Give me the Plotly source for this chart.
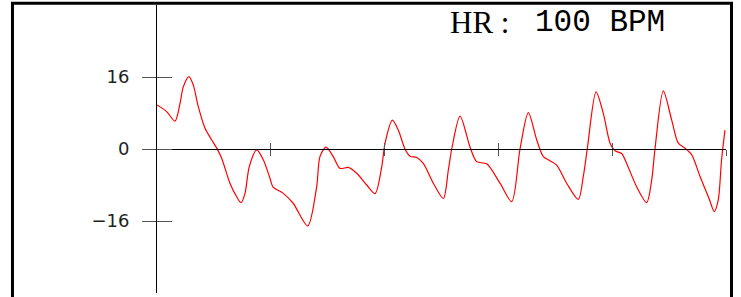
import plotly.graph_objects as go

# ECG-like waveform values
t_values = [0.00, 0.085, 0.158, 0.202, 0.231, 0.281, 0.319, 0.363, 0.422, 0.481,
            0.525, 0.569, 0.641, 0.700, 0.738, 0.773, 0.811, 0.876, 0.934, 0.993,
            1.019, 1.107, 1.195, 1.324, 1.403, 1.432, 1.485, 1.549, 1.608, 1.681,
            1.755, 1.843, 1.916, 1.975, 2.004, 2.068, 2.120, 2.179, 2.223, 2.282,
            2.340, 2.428, 2.516, 2.560, 2.590, 2.663, 2.750, 2.809, 2.897, 3.014,
            3.117, 3.190, 3.263, 3.337, 3.395, 3.453, 3.512, 3.600, 3.702, 3.746,
            3.781, 3.858, 3.922, 3.981, 4.025, 4.083, 4.127, 4.215, 4.303, 4.347,
            4.376, 4.449, 4.523, 4.581, 4.640, 4.699, 4.772, 4.851, 4.897, 4.932,
            4.961, 4.991]
signal = [9.8, 8.3, 6.2, 10.1, 13.8, 16.1, 14.2, 9.4, 4.6, 2.0,
          0.2, -2.1, -7.6, -10.6, -11.9, -9.9, -3.9, -0.2, -2.4, -6.5,
          -8.4, -9.8, -12.0, -17.1, -8.4, -1.7, 0.4, -1.7, -4.3, -4.1,
          -5.4, -8.0, -9.9, -3.9, 1.3, 6.4, 4.2, 0.0, -1.6, -1.9,
          -3.2, -7.6, -11.0, -4.7, 0.0, 7.3, 0.5, -2.8, -3.3, -7.6,
          -11.7, 0.0, 8.1, 2.0, -1.7, -2.6, -3.6, -7.6, -11.2, -6.1,
          0.0, 12.7, 7.9, 1.3, -0.4, -1.0, -3.2, -8.4, -11.9, -6.9,
          0.0, 12.9, 6.4, 1.3, 0.2, -1.3, -6.1, -11.0, -13.9, -11.3,
          -2.4, 4.2]

y_tick_vals = [-16, 0, 16]
y_tick_text = ["\u221216", "0", "16"]
x_tick_vals = [1, 2, 3, 4, 5]
title_left = "HR :"
title_right = "100 BPM"

fig = go.Figure()
fig.add_trace(go.Scatter(
    x=t_values, y=signal, mode="lines",
    line=dict(color="#ff0000", width=1.2, shape="spline", smoothing=0.8),
    hoverinfo="skip", showlegend=False,
))
# overlay trace to activate secondary axes (inside tick halves)
fig.add_trace(go.Scatter(x=[0], y=[0], xaxis="x2", yaxis="y2", mode="markers",
                         marker=dict(opacity=0), showlegend=False, hoverinfo="skip"))

tick_col = "#555555"
fig.update_layout(
    width=741, height=297,
    margin=dict(l=157, r=15, t=5, b=4),
    paper_bgcolor="white", plot_bgcolor="white",
    xaxis=dict(range=[0, 5], anchor="free", position=0.5,
               showline=True, linecolor="black", linewidth=1,
               tickvals=x_tick_vals, ticks="outside", ticklen=6, tickcolor=tick_col,
               tickwidth=1, showticklabels=False, showgrid=False, zeroline=False),
    xaxis2=dict(range=[0, 5], matches="x", overlaying="x", anchor="free", position=0.5,
                tickvals=x_tick_vals, ticks="inside", ticklen=6, tickcolor=tick_col,
                tickwidth=1, showticklabels=False, showgrid=False, zeroline=False,
                showline=False),
    yaxis=dict(range=[-32, 32], showline=True, linecolor="black", linewidth=1,
               tickvals=y_tick_vals, ticktext=y_tick_text, ticks="outside", ticklen=14,
               tickcolor=tick_col, tickwidth=1, ticklabelstandoff=9,
               tickfont=dict(family="DejaVu Sans", size=18, color="#222222"),
               showgrid=False, zeroline=False),
    yaxis2=dict(range=[-32, 32], matches="y", overlaying="y", anchor="x",
                tickvals=y_tick_vals, ticks="inside", ticklen=15, tickcolor=tick_col,
                tickwidth=1, showticklabels=False, showgrid=False, zeroline=False,
                showline=False),
    shapes=[dict(type="rect", xref="paper", yref="paper",
                 x0=-0.2540, x1=1.0097, y0=-0.2, y1=1.0058,
                 line=dict(color="black", width=3), fillcolor="rgba(0,0,0,0)",
                 layer="above")],
    annotations=[
        dict(text=title_left, xref="paper", yref="paper", x=0.5114, y=0.94,
             xanchor="left", yanchor="middle", showarrow=False,
             font=dict(family="Liberation Serif, Times New Roman, serif", size=31, color="black")),
        dict(text=title_right, xref="paper", yref="paper", x=0.6610, y=0.94,
             xanchor="left", yanchor="middle", showarrow=False,
             font=dict(family="Courier New, Liberation Mono, monospace", size=31, color="black")),
    ],
)

fig.write_html("out.html",
               config={"displayModeBar": False, "staticPlot": True},
               post_script="document.body.style.margin='0';document.body.style.overflow='hidden';")
